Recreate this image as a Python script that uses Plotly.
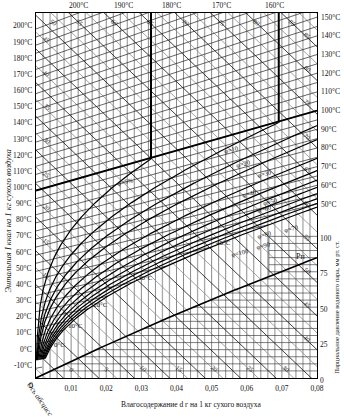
import numpy as np
import plotly.graph_objects as go

# ---- chart parameters (Ramzin I-d diagram, kcal units) ----
B = 745.0            # barometric pressure, mm Hg
K = 495.6            # skew of the oblique enthalpy axis
D_MAX = 0.08
Y_LO, Y_HI = -3.85, 50.37
P_TOP = 257.7        # pressure axis top (mm Hg) matching the plot height

isotherm_t = list(range(-10, 201, 5))
left_label_t = list(range(-10, 201, 10))
right_label_t = list(range(50, 151, 10))
top_label_t = [200, 190, 180, 170, 160]
enthalpy_levels = [x * 2.5 for x in range(-2, 41)]
phi_levels = [5, 10, 15, 20, 30, 40, 50, 60, 70, 80, 90, 100]
d_grid = [round(0.002 * k, 3) for k in range(1, 40)]
d_ticks = [0.01, 0.02, 0.03, 0.04, 0.05, 0.06, 0.07, 0.08]
d_tick_text = ["0,01", "0,02", "0,03", "0,04", "0,05", "0,06", "0,07", "0,08"]
p_ticks = [0, 25, 50, 75, 100]
p_grid = list(range(5, 101, 5))
top_I_labels = [50, 55, 60, 65, 70, 75, 80, 85]
left_I_labels = [10, 15, 20, 25, 30, 35, 40, 45]
bottom_I_labels = [0, 5, 10, 15, 20, 25, 30]
right_I_labels = [35, 40, 45, 50, 55, 60, 65, 70, 75, 80, 85]
sat_label_t = [0, 10, 20, 30, 40]
# phi label texts with their (d, I-d ordinate) anchor points
phi_label_text = ["φ=5%", "φ=10", "φ=20", "φ=30", "φ=40", "φ=50", "φ=60",
                  "φ=70", "φ=80", "φ=90", "φ=100"]
phi_label_pos = [(0.0255, 25.3), (0.0555, 30.1), (0.0590, 28.0), (0.0650, 26.6),
                 (0.0605, 23.6), (0.0665, 22.4), (0.0650, 21.3),
                 (0.0725, 18.4), (0.0650, 17.5), (0.0645, 15.9), (0.0580, 14.8)]

SERIF = "Liberation Serif"
T_BOIL = 99.4


def ps(t):
    """Saturation pressure of water vapour, mm Hg."""
    return 10 ** (8.07131 - 1730.63 / (233.426 + t))


def enth(t, d):
    return 0.24 * t + d * (597.0 + 0.47 * t)


def yc(d, i):
    return i - K * d


def d_sat(t, phi=1.0):
    p = phi * ps(t)
    if p >= B:
        return np.inf
    return 0.622 * p / (B - p)


fig = go.Figure()


def add_polylines(lines, color, width, yaxis="y"):
    xs, ys = [], []
    for lx, ly in lines:
        xs += list(lx) + [None]
        ys += list(ly) + [None]
    fig.add_trace(go.Scatter(x=xs, y=ys, mode="lines", yaxis=yaxis,
                             line=dict(color=color, width=width),
                             hoverinfo="skip", showlegend=False))


# vertical moisture grid
v_dark, v_grey = [], []
for k, d in enumerate(d_grid, start=1):
    (v_grey if k % 5 in (3, 4) else v_dark).append(([d, d], [Y_LO, Y_HI]))
add_polylines(v_grey, "#a8a8a8", 1.3)
add_polylines(v_dark, "#3a3a3a", 0.6)

# pressure grid under the partial-pressure curve
D_BOX = 0.0663
P_BOX = B * D_BOX / (0.622 + D_BOX)
h_lines = []
for p in p_grid:
    d0 = min(0.622 * p / (B - p), D_BOX)
    h_lines.append(([d0, D_MAX], [p, p]))
h_lines.append(([D_BOX, D_BOX], [P_BOX, 100]))
add_polylines(h_lines, "#2a2a2a", 0.6, yaxis="y2")

# isenthalps
h_dark, h_grey = [], []
for i in enthalpy_levels:
    seg = ([0, D_MAX], [yc(0, i), yc(D_MAX, i)])
    (h_dark if abs(i / 5 - round(i / 5)) < 1e-9 else h_grey).append(seg)
add_polylines(h_grey, "#8c8c8c", 0.8)
add_polylines(h_dark, "#111111", 0.8)

# isotherms (unsaturated region only)
iso = []
for t in isotherm_t:
    d_end = min(d_sat(t), D_MAX) if t < T_BOIL else D_MAX
    iso.append(([0, d_end], [yc(0, enth(t, 0)), yc(d_end, enth(t, d_end))]))
add_polylines(iso, "#222222", 0.7)

# boiling isotherm drawn heavy
add_polylines([([0, D_MAX], [yc(0, enth(100, 0)), yc(D_MAX, enth(100, D_MAX))])], "#000000", 1.8)

# relative humidity curves
phi_lines, phi_heavy = [], []
for phi in phi_levels:
    f = phi / 100.0
    ts = np.linspace(-5, T_BOIL - 0.01, 600)
    ds = np.array([d_sat(t, f) for t in ts])
    keep = ds <= D_MAX * 1.05
    ds, ts = ds[keep], ts[keep]
    ys = [yc(d, enth(t, d)) for d, t in zip(ds, ts)]
    phi_lines.append((ds, ys))
    db = 0.622 * f / (1 - f) if f < 1 else np.inf
    if db < D_MAX:
        y0 = yc(db, enth(T_BOIL, db))
        phi_heavy.append(([db, db], [y0, Y_HI]))
add_polylines(phi_lines, "#000000", 1.2)
add_polylines(phi_heavy, "#000000", 2.0)

# partial pressure of water vapour
dd = np.linspace(0, D_MAX, 100)
add_polylines([(dd, B * dd / (0.622 + dd))], "#000000", 1.6, yaxis="y2")

ann = []


def label(x, y, text, size=7.5, xanchor="center", yanchor="middle", xref="x", yref="y",
          xshift=0, yshift=0, angle=0, italic=False):
    ann.append(dict(x=x, y=y, xref=xref, yref=yref, text=text, showarrow=False,
                    xanchor=xanchor, yanchor=yanchor, xshift=xshift, yshift=yshift,
                    textangle=angle,
                    font=dict(family=SERIF, size=size, color="#111",
                              style="italic" if italic else "normal")))


for t in left_label_t:
    label(0, yc(0, enth(t, 0)), f"{t}°C", xref="paper", xanchor="right", xshift=-2, yshift=3)
for t in right_label_t:
    label(1, yc(D_MAX, enth(t, D_MAX)), f"{t}°C", xref="paper", xanchor="left", xshift=2)
for t in top_label_t:
    slope = 597.0 + 0.47 * t - K
    d = (Y_HI - 0.24 * t) / slope
    label(d, 1, f"{t}°C", yref="paper", yanchor="bottom", yshift=1)

for i in top_I_labels:
    d = (i - Y_HI) / K
    label(max(d, 0), Y_HI, str(i), size=6.5, xanchor="left", yanchor="top",
          xshift=3 if d > 0 else 10, yshift=-2, angle=35, italic=True)
for i in left_I_labels:
    label(0, yc(0, i), str(i), size=6.5, xanchor="left", yanchor="bottom", xshift=3, yshift=2,
          angle=35, italic=True)
for i in bottom_I_labels:
    d = (i - Y_LO) / K
    label(d, Y_LO, str(i), size=6.5, xanchor="left", yanchor="bottom", xshift=2, yshift=2,
          angle=35, italic=True)
for i in right_I_labels:
    label(D_MAX, yc(D_MAX, i), str(i), size=6.5, xanchor="right", yanchor="bottom", xshift=-2,
          yshift=4, angle=35, italic=True)

# saturation temperatures along phi = 100 %
for t in sat_label_t:
    d = d_sat(t)
    label(d, yc(d, enth(t, d)), f"{t}°C", size=7, xanchor="left", xshift=3, yshift=4)

for txt, (d, y) in zip(phi_label_text, phi_label_pos):
    label(d, y, txt, size=6.5, angle=-14)

label(0.0735, 86, "Pп", size=8, yref="y2", xanchor="left")
label(0, 0, "0", xref="paper", yref="paper", xanchor="right", yanchor="top", xshift=-1, yshift=-1, size=8)
label(0.014, -0.06, "Ось абсцисс", xref="paper", yref="paper", angle=55, size=7.5, italic=True)
label(0.55, -0.055, "Влагосодержание d г на 1 кг сухого воздуха", xref="paper", yref="paper",
      yanchor="top", size=7.5)
label(-0.098, 0.43, "Энтальпия I ккал на 1 кг сухого воздуха", xref="paper", yref="paper",
      angle=-90, size=8.5, italic=True)
label(1.071, 0.195, "Парциальное давление водяного пара, мм рт. ст.", xref="paper",
      yref="paper", xanchor="center", angle=-90, size=6.5)

fig.update_layout(
    width=344, height=418,
    margin=dict(l=36, r=22, t=12, b=40),
    paper_bgcolor="white", plot_bgcolor="white",
    annotations=ann,
    xaxis=dict(range=[0, D_MAX], tickvals=d_ticks, ticktext=d_tick_text, showgrid=False,
               zeroline=False, showline=True, linecolor="#000", linewidth=1, ticks="",
               ticklabelstandoff=3,
               tickfont=dict(family=SERIF, size=7.5, color="#111"), mirror=True),
    yaxis=dict(range=[Y_LO, Y_HI], showgrid=False, zeroline=False, showticklabels=False,
               showline=True, linecolor="#000", linewidth=1, mirror=True),
    yaxis2=dict(range=[0, P_TOP], overlaying="y", side="right", tickvals=p_ticks,
                showgrid=False, zeroline=False, showline=False, ticks="",
                ticklabelstandoff=2, ticklabelshift=2,
                tickfont=dict(family=SERIF, size=7.5, color="#111")),
)

fig.write_html("out.html")
